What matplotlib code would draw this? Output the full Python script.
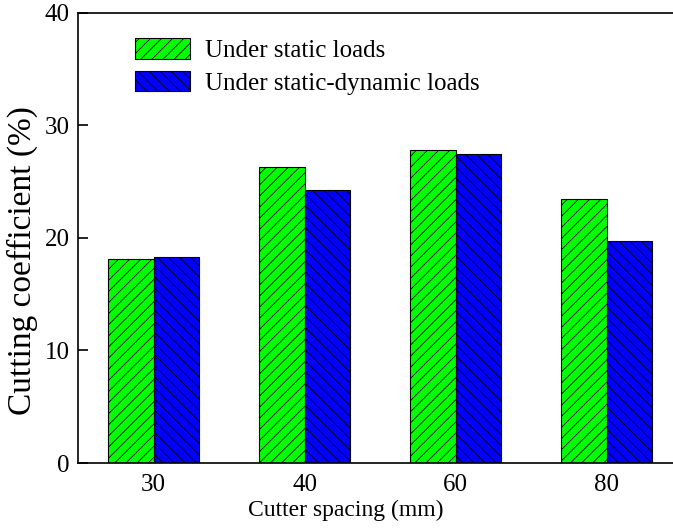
import matplotlib
matplotlib.use('Agg')
import matplotlib.pyplot as plt
import numpy as np

# cutting coefficient vs cutter spacing
spacing = ['30', '40', '60', '80']
static = [18.1, 26.3, 27.8, 23.5]
static_dyn = [18.3, 24.3, 27.5, 19.7]

plt.rcParams['font.family'] = ['Liberation Serif', 'DejaVu Serif']
plt.rcParams['hatch.linewidth'] = 0.6

fig = plt.figure(figsize=(6.73, 5.28), dpi=100)
ax = fig.add_axes([0.1159, 0.1231, 0.8975, 0.8523])

x = np.arange(len(spacing))
w = 0.3
ax.bar(x - w/2, static, w, color='#00ff00', edgecolor='black', linewidth=0.8,
       hatch='///', label='Under static loads')
ax.bar(x + w/2, static_dyn, w, color='#0000ff', edgecolor='black', linewidth=0.8,
       hatch='\\\\\\', label='Under static-dynamic loads')

ax.set_xlim(-0.5, 3.5)
ax.set_ylim(0, 40)
ax.set_yticks([0, 10, 20, 30, 40])
ax.set_xticks(x)
ax.set_xticklabels(spacing)
ax.tick_params(axis='y', direction='in', length=7, width=1.2, labelsize=18, pad=6)
ax.tick_params(axis='x', length=0, labelsize=18, pad=8)
for s in ax.spines.values():
    s.set_linewidth(1.2)

ax.set_xlabel('Cutter spacing (mm)', fontsize=17)
ax.xaxis.set_label_coords(0.444, -0.082)
ax.set_ylabel('Cutting coefficient (%)', fontsize=24)
ax.yaxis.set_label_coords(-0.066, 0.449)

ax.legend(loc='upper left', bbox_to_anchor=(0.094, 0.944), frameon=False, fontsize=18,
          handlelength=2.2, handleheight=0.88, handletextpad=0.6, labelspacing=0.35,
          borderpad=0, borderaxespad=0)

fig.savefig('out.png', dpi=100)
